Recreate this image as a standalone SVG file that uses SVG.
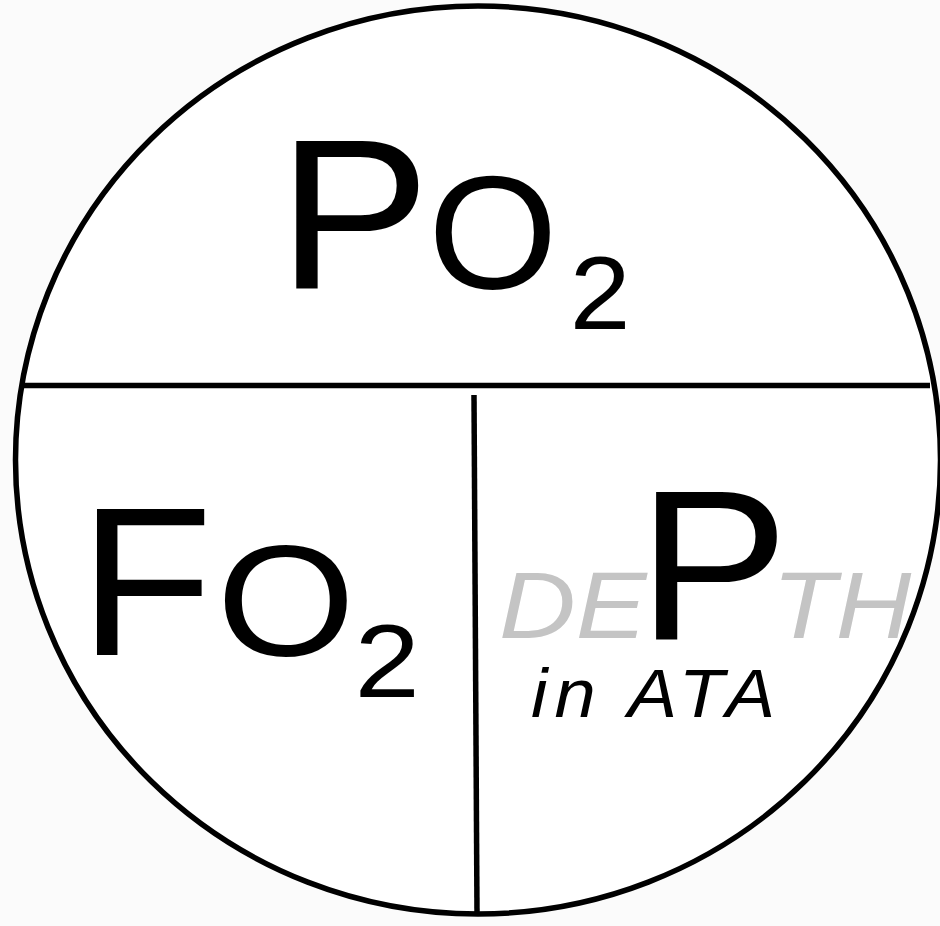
<svg xmlns="http://www.w3.org/2000/svg" width="940" height="926" viewBox="0 0 940 926">
<style>
.t{font-family:"Liberation Sans",Arial,sans-serif;fill:#000}
.g{font-family:"Liberation Sans",Arial,sans-serif;font-style:italic;fill:#c4c4c4}
.i{font-family:"Liberation Sans",Arial,sans-serif;font-style:italic;fill:#000}
.ln{stroke:#000;fill:none}
</style>
<rect width="940" height="926" fill="#fbfbfb"/>
<g id="circle">
<ellipse cx="478" cy="460" rx="462.5" ry="454" fill="#fff" stroke="#000" stroke-width="5.5"/>
</g>
<g id="connectors">
<line class="ln" x1="20" y1="385.5" x2="930" y2="385.5" stroke-width="5.5"/>
<line class="ln" x1="474" y1="395" x2="477" y2="912" stroke-width="5.5"/>
</g>
<g id="po2">
<text class="t" font-size="214" transform="translate(277.4,288) scale(1.07,1)">P</text>
<text class="t" font-size="162" transform="translate(428,288) scale(1.03,1)">O</text>
<text class="t" font-size="103" transform="translate(569.8,329) scale(1.06,1)">2</text>
</g>
<g id="fo2">
<text class="t" font-size="212" transform="translate(79,655) scale(1.035,1)">F</text>
<text class="t" font-size="158" transform="translate(216.4,655) scale(1.13,1)">O</text>
<text class="t" font-size="104" transform="translate(354.6,697) scale(1.13,1)">2</text>
</g>
<g id="depth">
<text class="g" font-size="95" transform="translate(499,638) scale(1.12,1)">DE</text>
<text class="t" font-size="214" transform="translate(637.5,639) scale(1.06,1)">P</text>
<text class="g" font-size="95" transform="translate(772,638) scale(1.1,1)">TH</text>
<text class="i" font-size="68" letter-spacing="6.5" transform="translate(531,717) scale(1.09,1)">in ATA</text>
</g>
</svg>
